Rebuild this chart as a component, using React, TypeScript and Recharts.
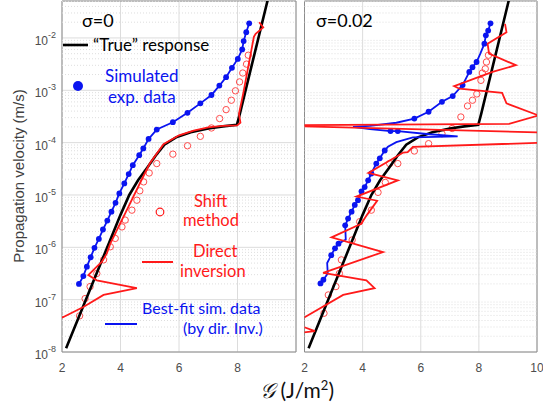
import React from "react";
import {
  ScatterChart,
  Scatter,
  XAxis,
  YAxis,
  CartesianGrid,
  ReferenceLine,
  ReferenceArea,
} from "recharts";

// G in J/m^2, velocities as log10(v in m/s)
const trueG = [2.14, 3.0, 4.0, 4.3, 4.6, 4.9, 5.2, 5.5, 5.9, 6.4, 7.0, 7.5, 7.98, 8.08, 9.1];
const trueLogV = [-7.93, -6.75, -5.38, -5.0, -4.72, -4.49, -4.25, -4.04, -3.9, -3.8, -3.73, -3.69, -3.66, -3.45, -1.12];

// sigma = 0 panel
const simG = [2.58, 2.73, 2.85, 2.98, 3.11, 3.26, 3.4, 3.55, 3.69, 3.83, 3.96, 4.13, 4.28, 4.42, 4.64, 4.78, 4.96, 5.24, 5.79, 6.29, 6.73, 7.11, 7.38, 7.61, 7.81, 8.01, 8.16, 8.21, 8.3, 8.4];
const simLogV = [-6.7, -6.55, -6.37, -6.19, -6.01, -5.84, -5.66, -5.49, -5.32, -5.15, -4.97, -4.78, -4.6, -4.43, -4.24, -4.11, -3.93, -3.75, -3.61, -3.43, -3.25, -3.09, -2.91, -2.75, -2.57, -2.4, -2.22, -2.06, -1.89, -1.72];

const shiftG = [2.6, 2.79, 2.96, 3.19, 3.42, 3.65, 3.82, 4.05, 4.16, 4.39, 4.56, 4.66, 4.79, 4.98, 5.24, 5.79, 6.29, 6.73, 7.11, 7.39, 7.61, 7.79, 7.93, 8.07, 8.18, 8.31, 8.37];
const shiftLogV = [-7.31, -6.98, -6.75, -6.5, -6.24, -5.99, -5.83, -5.61, -5.48, -5.29, -5.1, -4.92, -4.75, -4.58, -4.4, -4.22, -4.06, -3.88, -3.72, -3.54, -3.37, -3.19, -3.01, -2.84, -2.67, -2.5, -2.33];

const directG = [1.85, 2.05, 2.73, 3.42, 4.56, 3.19, 2.9, 3.19, 3.36, 3.53, 3.65, 3.82, 3.93, 4.16, 4.73, 5.0, 5.47, 6.0, 6.5, 7.0, 7.5, 7.99, 8.1, 8.05, 8.2, 8.56, 8.62, 8.88, 8.74];
const directLogV = [-7.38, -7.33, -7.14, -6.91, -6.78, -6.63, -6.53, -6.37, -6.28, -6.12, -5.93, -5.74, -5.61, -5.35, -4.7, -4.4, -4.03, -3.86, -3.77, -3.71, -3.68, -3.67, -3.62, -3.45, -3.05, -1.98, -1.92, -1.8, -1.7];

// sigma = 0.02 panel
const fitLineG = [8.4, 8.32, 8.24, 8.19, 8.05, 7.92, 7.78, 7.67, 7.44, 7.1, 6.73, 6.27, 5.78, 5.16, 4.25, 3.67, 4.25, 4.96, 5.21, 6.3, 7.27, 5.73, 5.16, 4.87, 4.76, 4.59, 4.47, 4.3, 4.19, 4.07, 3.96, 3.84, 3.73, 3.62, 3.5, 3.4, 3.42, 3.17, 3.05, 2.92, 2.78, 2.8, 2.65, 2.55];
const fitLineLogV = [-1.72, -1.86, -1.95, -2.11, -2.3, -2.46, -2.56, -2.65, -2.9, -3.11, -3.22, -3.41, -3.54, -3.62, -3.68, -3.7, -3.74, -3.78, -3.78, -3.84, -3.88, -3.9, -3.99, -4.08, -4.15, -4.3, -4.4, -4.59, -4.72, -4.85, -4.93, -5.1, -5.19, -5.32, -5.45, -5.58, -5.85, -5.93, -6.02, -6.15, -6.3, -6.5, -6.62, -6.69];

const fitDotG = [8.4, 8.32, 8.24, 8.19, 7.92, 7.78, 7.67, 7.44, 7.1, 6.73, 6.27, 5.78, 4.96, 5.21, 4.76, 4.59, 4.47, 4.3, 4.19, 4.07, 3.96, 3.84, 3.73, 3.62, 3.5, 3.4, 3.17, 3.05, 2.92, 2.65, 2.55];
const fitDotLogV = [-1.72, -1.86, -1.95, -2.11, -2.46, -2.56, -2.65, -2.9, -3.11, -3.22, -3.41, -3.54, -3.78, -3.78, -4.15, -4.3, -4.4, -4.59, -4.72, -4.85, -4.93, -5.1, -5.19, -5.32, -5.45, -5.58, -5.93, -6.02, -6.15, -6.62, -6.69];

const shift2G = [8.33, 8.26, 8.22, 8.12, 8.07, 7.93, 7.78, 7.61, 7.38, 7.08, 6.73, 6.27, 5.78, 5.21, 4.93, 4.78, 4.53, 4.3, 3.9, 3.64, 3.27, 3.2, 3.08, 2.82, 2.67];
const shift2LogV = [-2.33, -2.46, -2.59, -2.67, -2.81, -3.07, -3.19, -3.3, -3.51, -3.73, -3.83, -4.02, -4.16, -4.4, -4.4, -4.76, -4.95, -5.29, -5.51, -5.86, -6.24, -6.5, -6.75, -6.91, -7.26];

const direct2G = [8.9, 8.95, 8.3, 8.35, 9.27, 8.47, 7.15, 7.33, 8.8, 8.95, 10.05, 9.04, 0.5, 14, 12, 5.73, 5.55, 5.4, 4.2, 5.21, 3.79, 4.5, 4.15, 3.95, 2.93, 4.7, 2.64, 4.13, 4.41, 3.33, 2.02, 1.6, 2.36, 1.6];
const direct2LogV = [-1.73, -1.89, -2.11, -2.3, -2.52, -2.65, -2.92, -2.97, -3.05, -3.25, -3.48, -3.64, -3.67, -3.86, -3.97, -4.08, -4.18, -4.19, -4.58, -4.72, -5.03, -5.11, -5.38, -5.55, -5.81, -6.09, -6.49, -6.63, -6.78, -6.91, -7.33, -7.45, -7.6, -7.65];

const decadeTicks = [1e-8, 1e-7, 1e-6, 1e-5, 1e-4, 1e-3, 1e-2];
const leftXTicks = [2, 4, 6, 8];
const rightXTicks = [2, 4, 6, 8, 10];
const frameXTicks = [2, 4, 6, 8, 10];

const Y_MIN = 1e-8;
const Y_MAX = 0.0508;
const BLUE = "#0a14f0";
const RED = "#ff1a1a";
const FRAME = "#8c8c8c";

const pts = (g: number[], lv: number[]) => g.map((x, i) => ({ x, y: Math.pow(10, lv[i]) }));

const minorY: number[] = [];
decadeTicks.forEach((d) => {
  for (let k = 2; k <= 9; k++) if (k * d < Y_MAX) minorY.push(k * d);
});

const NoDot = () => <g />;
const BlueDot = (p: any) => <circle cx={p.cx} cy={p.cy} r={2.9} fill={BLUE} />;
const RedRing = (p: any) => <circle cx={p.cx} cy={p.cy} r={3.2} fill="none" stroke="#ff4d4d" strokeWidth={1} />;

function PowTick({ x, y, payload }: any) {
  const e = Math.round(Math.log10(payload.value));
  return (
    <text x={x} y={y + 7} textAnchor="end" fill="#4d4d4d" fontSize={12} fontFamily="'Liberation Sans', Arial, sans-serif">
      10
      <tspan dy={-7} fontSize={9}>{e}</tspan>
    </text>
  );
}

const tickStyle = { fill: "#4d4d4d", fontSize: 12, fontFamily: "'Liberation Sans', Arial, sans-serif" };

function Panel(props: {
  width: number;
  margin: any;
  xTicks: number[];
  showY: boolean;
  trueData: any[];
  circles: any[];
  fitLine: any[];
  fitDots: any[];
  direct: any[];
}) {
  const edgeTicks = (id: string, side: "left" | "right", ticks: number[], size: number) => (
    <YAxis
      yAxisId={id}
      orientation={side}
      mirror
      type="number"
      scale="log"
      domain={[Y_MIN, Y_MAX]}
      ticks={ticks}
      allowDataOverflow
      width={0}
      tick={false}
      axisLine={false}
      tickLine={{ stroke: FRAME }}
      tickSize={size}
      interval={0}
    />
  );
  return (
    <ScatterChart width={props.width} height={417} margin={props.margin}>
      <CartesianGrid stroke="#dcdcdc" strokeWidth={1} />
      {minorY.map((v) => (
        <ReferenceLine key={v} y={v} stroke="#dedede" strokeDasharray="1 2" />
      ))}
      <XAxis
        type="number"
        dataKey="x"
        domain={[2, 10]}
        ticks={props.xTicks}
        allowDataOverflow
        height={65}
        tickLine={false}
        axisLine={false}
        tickSize={8}
        tickMargin={3}
        tick={tickStyle}
        interval={0}
      />
      <XAxis
        xAxisId="top"
        orientation="top"
        mirror
        type="number"
        domain={[2, 10]}
        ticks={frameXTicks}
        height={0}
        tick={false}
        axisLine={false}
        tickLine={{ stroke: FRAME }}
        tickSize={4}
        interval={0}
      />
      <YAxis
        type="number"
        dataKey="y"
        scale="log"
        domain={[Y_MIN, Y_MAX]}
        ticks={decadeTicks}
        allowDataOverflow
        width={props.showY ? 62 : 0}
        tickLine={false}
        axisLine={false}
        tickSize={4}
        tickMargin={2}
        tick={props.showY ? <PowTick /> : false}
        interval={0}
      />
      {edgeTicks("majL", "left", decadeTicks, 4)}
      {edgeTicks("majR", "right", decadeTicks, 4)}
      {edgeTicks("minL", "left", minorY, 2)}
      {edgeTicks("minR", "right", minorY, 2)}
      <ReferenceArea x1={2} x2={10} y1={Y_MIN} y2={Y_MAX} fill="none" stroke={FRAME} strokeWidth={1} />
      <Scatter data={props.circles} shape={RedRing} isAnimationActive={false} />
      <Scatter
        data={props.trueData}
        shape={NoDot}
        line={{ stroke: "#000", strokeWidth: 2.6 }}
        lineType="joint"
        isAnimationActive={false}
      />
      <Scatter
        data={props.fitLine}
        shape={NoDot}
        line={{ stroke: BLUE, strokeWidth: 1.8 }}
        lineType="joint"
        isAnimationActive={false}
      />
      <Scatter data={props.fitDots} shape={BlueDot} isAnimationActive={false} />
      <Scatter
        data={props.direct}
        shape={NoDot}
        line={{ stroke: RED, strokeWidth: 1.8 }}
        lineType="joint"
        isAnimationActive={false}
      />
    </ScatterChart>
  );
}

const legendFont = "Lato, 'Open Sans', sans-serif";

export default function App() {
  const trueData = pts(trueG, trueLogV);
  const sim = pts(simG, simLogV);
  return (
    <div style={{ position: "absolute", left: 0, top: 0, width: 543, height: 417, background: "#fff", overflow: "hidden" }}>
      <div style={{ position: "absolute", left: 0, top: 0 }}>
        <Panel
          width={300}
          margin={{ top: 1, right: 4, bottom: 0, left: 0 }}
          xTicks={leftXTicks}
          showY
          trueData={trueData}
          circles={pts(shiftG, shiftLogV)}
          fitLine={sim}
          fitDots={sim}
          direct={pts(directG, directLogV)}
        />
      </div>
      <div style={{ position: "absolute", left: 300, top: 0 }}>
        <Panel
          width={243}
          margin={{ top: 1, right: 6, bottom: 0, left: 4.5 }}
          xTicks={rightXTicks}
          showY={false}
          trueData={trueData}
          circles={pts(shift2G, shift2LogV)}
          fitLine={pts(fitLineG, fitLineLogV)}
          fitDots={pts(fitDotG, fitDotLogV)}
          direct={pts(direct2G, direct2LogV)}
        />
      </div>
      <svg width={543} height={417} style={{ position: "absolute", left: 0, top: 0, pointerEvents: "none" }}>
        <text x={18} y={176} transform="rotate(-90 18 176)" textAnchor="middle" dominantBaseline="central" fontSize={15} fill="#404040" fontFamily="'Liberation Sans', Arial, sans-serif">
          Propagation velocity (m/s)
        </text>
        <text x={297} y={398} textAnchor="middle" fontSize={21} fill="#111" fontFamily={legendFont}>
          <tspan fontStyle="italic">{"\u{1D4A2}"}</tspan>{"\u00A0"}(J/m<tspan dy={-8} fontSize={13}>2</tspan><tspan dy={8}>)</tspan>
        </text>

        <g fontFamily={legendFont} fontSize={16.5}>
          <text x={82} y={27} fontSize={18} fill="#000">σ=0</text>
          <text x={316} y={27} fontSize={18} fill="#000">σ=0.02</text>

          <line x1={63} x2={88} y1={45} y2={45} stroke="#000" strokeWidth={2.6} />
          <text x={93} y={51} fontSize={17} fill="#000">“True” response</text>

          <circle cx={78} cy={86} r={5} fill={BLUE} />
          <text x={105} y={82} fontSize={17} fill={BLUE}>Simulated</text>
          <text x={108} y={103} fontSize={17} fill={BLUE}>exp. data</text>

          <circle cx={160} cy={212} r={3.8} fill="none" stroke={RED} strokeWidth={1.2} />
          <text x={194} y={207} fill={RED}>Shift</text>
          <text x={183} y={226} fill={RED}>method</text>

          <line x1={142} x2={173} y1={262} y2={262} stroke={RED} strokeWidth={2} />
          <text x={193} y={257} fill={RED}>Direct</text>
          <text x={180} y={277} fill={RED}>inversion</text>

          <line x1={105} x2={137} y1={324} y2={324} stroke={BLUE} strokeWidth={2} />
          <text x={142} y={314} fontSize={16} fill={BLUE}>Best-fit sim. data</text>
          <text x={183} y={334} fontSize={16} fill={BLUE}>(by dir. Inv.)</text>
        </g>
      </svg>
    </div>
  );
}
